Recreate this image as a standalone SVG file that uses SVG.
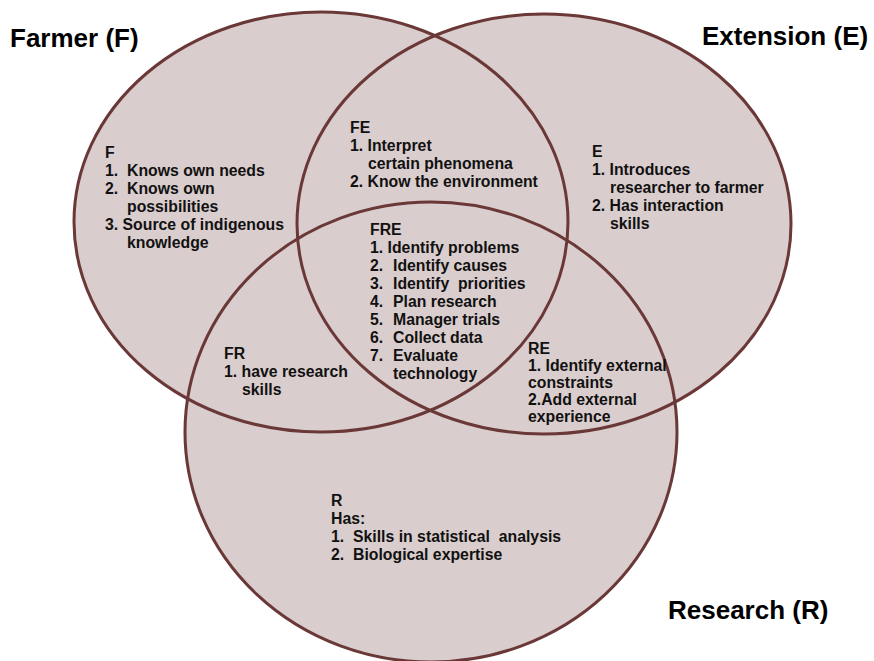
<svg xmlns="http://www.w3.org/2000/svg" width="874" height="661" viewBox="0 0 874 661">
<style>
.fill{fill:#dacdcd;stroke:none}
.ring{fill:none;stroke:#6b3838;stroke-width:3}
.title{font-family:"Liberation Sans",Arial,sans-serif;font-weight:bold;font-size:26px;fill:#000}
.t{font-family:"Liberation Sans",Arial,sans-serif;font-weight:bold;font-size:15.8px;fill:#111;white-space:pre}
</style>
<rect width="874" height="661" fill="#fff"/>
<g id="fills">
<ellipse class="fill" cx="321" cy="222" rx="247" ry="210"/>
<ellipse class="fill" cx="544" cy="224" rx="247" ry="210"/>
<ellipse class="fill" cx="431" cy="432" rx="246" ry="230"/>
</g>
<g id="connectors"></g>
<g id="farmer">
<ellipse class="ring" cx="321" cy="222" rx="247" ry="210"/>
<text class="title" x="10" y="47">Farmer (F)</text>
<text class="t" x="105" y="158">F</text>
<text class="t" x="105" y="176">1.</text><text class="t" x="127" y="176">Knows own needs</text>
<text class="t" x="105" y="194">2.</text><text class="t" x="127" y="194">Knows own</text>
<text class="t" x="127" y="212">possibilities</text>
<text class="t" x="105" y="230">3. Source of indigenous</text>
<text class="t" x="127" y="248">knowledge</text>
</g>
<g id="extension">
<ellipse class="ring" cx="544" cy="224" rx="247" ry="210"/>
<text class="title" x="702" y="45">Extension (E)</text>
<text class="t" x="592" y="157">E</text>
<text class="t" x="592" y="175">1. Introduces</text>
<text class="t" x="610" y="193">researcher to farmer</text>
<text class="t" x="592" y="211">2. Has interaction</text>
<text class="t" x="610" y="229">skills</text>
</g>
<g id="research">
<ellipse class="ring" cx="431" cy="432" rx="246" ry="230"/>
<text class="title" x="668" y="619">Research (R)</text>
<text class="t" x="331" y="506">R</text>
<text class="t" x="331" y="524">Has:</text>
<text class="t" x="331" y="542">1.</text><text class="t" x="353" y="542">Skills in statistical  analysis</text>
<text class="t" x="331" y="560">2.</text><text class="t" x="353" y="560">Biological expertise</text>
</g>
<g id="fe">
<text class="t" x="350" y="133">FE</text>
<text class="t" x="350" y="151">1. Interpret</text>
<text class="t" x="368" y="169">certain phenomena</text>
<text class="t" x="350" y="187">2. Know the environment</text>
</g>
<g id="fre">
<text class="t" x="370" y="235">FRE</text>
<text class="t" x="370" y="253">1. Identify problems</text>
<text class="t" x="370" y="271">2.</text><text class="t" x="393" y="271">Identify causes</text>
<text class="t" x="370" y="289">3.</text><text class="t" x="393" y="289">Identify  priorities</text>
<text class="t" x="370" y="307">4.</text><text class="t" x="393" y="307">Plan research</text>
<text class="t" x="370" y="325">5.</text><text class="t" x="393" y="325">Manager trials</text>
<text class="t" x="370" y="343">6.</text><text class="t" x="393" y="343">Collect data</text>
<text class="t" x="370" y="361">7.</text><text class="t" x="393" y="361">Evaluate</text>
<text class="t" x="393" y="379">technology</text>
</g>
<g id="fr">
<text class="t" x="224" y="359">FR</text>
<text class="t" x="224" y="377">1. have research</text>
<text class="t" x="242" y="395">skills</text>
</g>
<g id="re">
<text class="t" x="528" y="354">RE</text>
<text class="t" x="528" y="371">1. Identify external</text>
<text class="t" x="528" y="388">constraints</text>
<text class="t" x="528" y="405">2.Add external</text>
<text class="t" x="528" y="422">experience</text>
</g>
</svg>
